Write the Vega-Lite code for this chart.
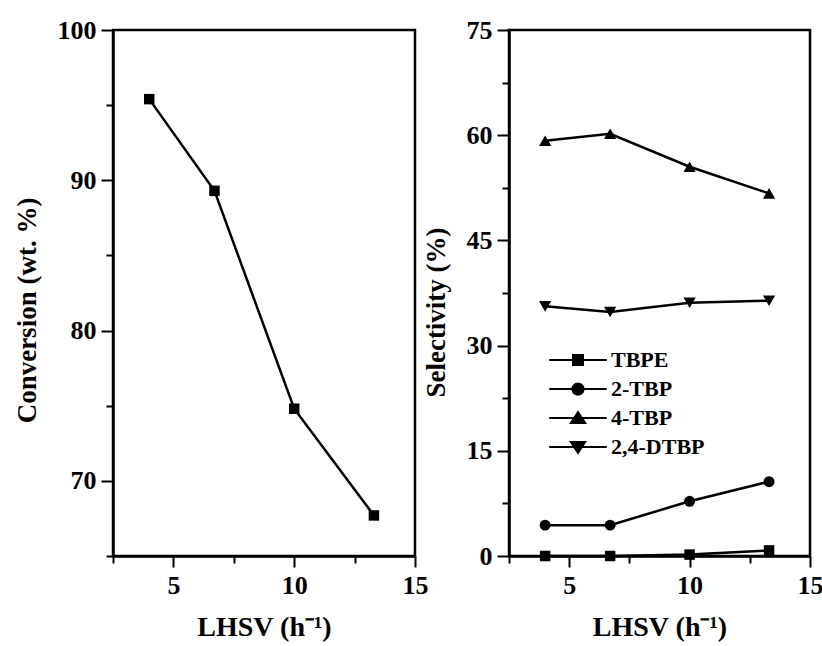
{
  "$schema": "https://vega.github.io/schema/vega-lite/v6.json",
  "padding": {"left": 11, "top": 15, "right": 5, "bottom": 0},
  "background": "white",
  "spacing": 94,
  "bounds": "flush",
  "resolve": {"scale": {"shape": "independent"}, "legend": {"shape": "independent"}},
  "config": {
    "view": {"stroke": "black", "strokeWidth": 2.5},
    "font": "Liberation Serif",
    "axis": {
      "domainColor": "black", "domainWidth": 2.5, "tickColor": "black", "tickWidth": 2, "grid": false,
      "labelFont": "Liberation Serif", "labelFontWeight": "bold", "labelFontSize": 26, "labelColor": "black",
      "titleFont": "Liberation Serif", "titleFontWeight": "bold", "titleColor": "black",
      "labelOverlap": false, "labelFlush": false, "labelPadding": 5
    }
  },
  "hconcat": [
    {
      "width": 302, "height": 526,
      "data": {"values": [
        {"lhsv": 4.0, "conv": 95.4},
        {"lhsv": 6.7, "conv": 89.3},
        {"lhsv": 10.0, "conv": 74.8},
        {"lhsv": 13.3, "conv": 67.7}
      ]},
      "encoding": {
        "x": {"field": "lhsv", "type": "quantitative",
          "scale": {"domain": [2.5, 15], "nice": false, "zero": false},
          "axis": {"values": [2.5, 5, 7.5, 10, 12.5, 15],
            "labelExpr": "datum.value % 5 === 0 ? datum.label : ''",
            "tickSize": {"condition": {"test": "datum.value % 5 === 0", "value": 11}, "value": 7},
            "title": "LHSV (h⁻¹)", "titleFontSize": 28, "titlePadding": 15}},
        "y": {"field": "conv", "type": "quantitative",
          "scale": {"domain": [65, 100], "nice": false, "zero": false},
          "axis": {"values": [65, 70, 75, 80, 85, 90, 95, 100],
            "labelExpr": "datum.value % 10 === 0 ? datum.label : ''",
            "tickSize": {"condition": {"test": "datum.value % 10 === 0", "value": 12}, "value": 7},
            "title": "Conversion (wt. %)", "titleFontSize": 27, "titlePadding": 16, "titleY": 280}}
      },
      "layer": [
        {"mark": {"type": "line", "color": "black", "strokeWidth": 2.5}},
        {"mark": {"type": "point", "shape": "square", "filled": true, "color": "black", "size": 110, "opacity": 1}}
      ]
    },
    {
      "width": 301, "height": 526,
      "data": {"values": [
        {"lhsv": 4.0, "sel": 0.0, "product": "TBPE"},
        {"lhsv": 6.7, "sel": 0.0, "product": "TBPE"},
        {"lhsv": 10.0, "sel": 0.2, "product": "TBPE"},
        {"lhsv": 13.3, "sel": 0.8, "product": "TBPE"},
        {"lhsv": 4.0, "sel": 4.4, "product": "2-TBP"},
        {"lhsv": 6.7, "sel": 4.4, "product": "2-TBP"},
        {"lhsv": 10.0, "sel": 7.8, "product": "2-TBP"},
        {"lhsv": 13.3, "sel": 10.6, "product": "2-TBP"},
        {"lhsv": 4.0, "sel": 59.2, "product": "4-TBP"},
        {"lhsv": 6.7, "sel": 60.2, "product": "4-TBP"},
        {"lhsv": 10.0, "sel": 55.5, "product": "4-TBP"},
        {"lhsv": 13.3, "sel": 51.7, "product": "4-TBP"},
        {"lhsv": 4.0, "sel": 35.6, "product": "2,4-DTBP"},
        {"lhsv": 6.7, "sel": 34.8, "product": "2,4-DTBP"},
        {"lhsv": 10.0, "sel": 36.1, "product": "2,4-DTBP"},
        {"lhsv": 13.3, "sel": 36.4, "product": "2,4-DTBP"}
      ]},
      "encoding": {
        "x": {"field": "lhsv", "type": "quantitative",
          "scale": {"domain": [2.5, 15], "nice": false, "zero": false},
          "axis": {"values": [2.5, 5, 7.5, 10, 12.5, 15],
            "labelExpr": "datum.value % 5 === 0 ? datum.label : ''",
            "tickSize": {"condition": {"test": "datum.value % 5 === 0", "value": 11}, "value": 7},
            "title": "LHSV (h⁻¹)", "titleFontSize": 28, "titlePadding": 15}},
        "y": {"field": "sel", "type": "quantitative",
          "scale": {"domain": [0, 75], "nice": false, "zero": false},
          "axis": {"values": [0, 7.5, 15, 22.5, 30, 37.5, 45, 52.5, 60, 67.5, 75],
            "labelExpr": "datum.value % 15 === 0 ? datum.label : ''",
            "tickSize": {"condition": {"test": "datum.value % 15 === 0", "value": 12}, "value": 7},
            "title": "Selectivity (%)", "titleFontSize": 27, "titlePadding": 16, "titleY": 282}}
      },
      "layer": [
        {"mark": {"type": "line", "color": "black", "strokeWidth": 2.5},
         "encoding": {"detail": {"field": "product"}}},
        {"transform": [{"filter": "datum.product === 'TBPE'"}],
         "mark": {"type": "point", "shape": "square", "filled": true, "color": "black", "size": 110, "opacity": 1}},
        {"transform": [{"filter": "datum.product === '2-TBP'"}],
         "mark": {"type": "point", "shape": "circle", "filled": true, "color": "black", "size": 120, "opacity": 1}},
        {"transform": [{"filter": "datum.product === '4-TBP'"}],
         "mark": {"type": "point", "shape": "triangle-up", "filled": true, "color": "black", "size": 150, "opacity": 1}},
        {"transform": [{"filter": "datum.product === '2,4-DTBP'"}],
         "mark": {"type": "point", "shape": "triangle-down", "filled": true, "color": "black", "size": 150, "opacity": 1}},
        {"transform": [{"filter": "false"}],
         "mark": {"type": "point", "filled": true, "color": "black", "opacity": 1},
         "encoding": {
           "shape": {"field": "product", "type": "nominal",
             "scale": {"domain": ["TBPE", "2-TBP", "4-TBP", "2,4-DTBP"],
                       "range": [
                         "M-4.8,-0.18H4.8V0.18H-4.8ZM-1,-1H1V1H-1Z",
                         "M-4.8,-0.18H4.8V0.18H-4.8ZM1.1,0A1.1,1.1 0 1,1 -1.1,0A1.1,1.1 0 1,1 1.1,0Z",
                         "M-4.8,-0.18H4.8V0.18H-4.8ZM0,-1.3L1.5,1L-1.5,1Z",
                         "M-4.8,-0.18H4.8V0.18H-4.8ZM0,1.3L-1.5,-1L1.5,-1Z"]},
             "legend": {"title": null, "orient": "none", "legendX": 58, "legendY": 319,
               "labelFont": "Liberation Serif", "labelFontWeight": "bold", "labelFontSize": 22, "labelColor": "black",
               "symbolSize": 144, "symbolFillColor": "black", "symbolStrokeColor": "black", "symbolStrokeWidth": 0,
               "symbolOpacity": 1, "labelOffset": 22, "rowPadding": 7, "padding": 0}
           }
         }}
      ]
    }
  ]
}
